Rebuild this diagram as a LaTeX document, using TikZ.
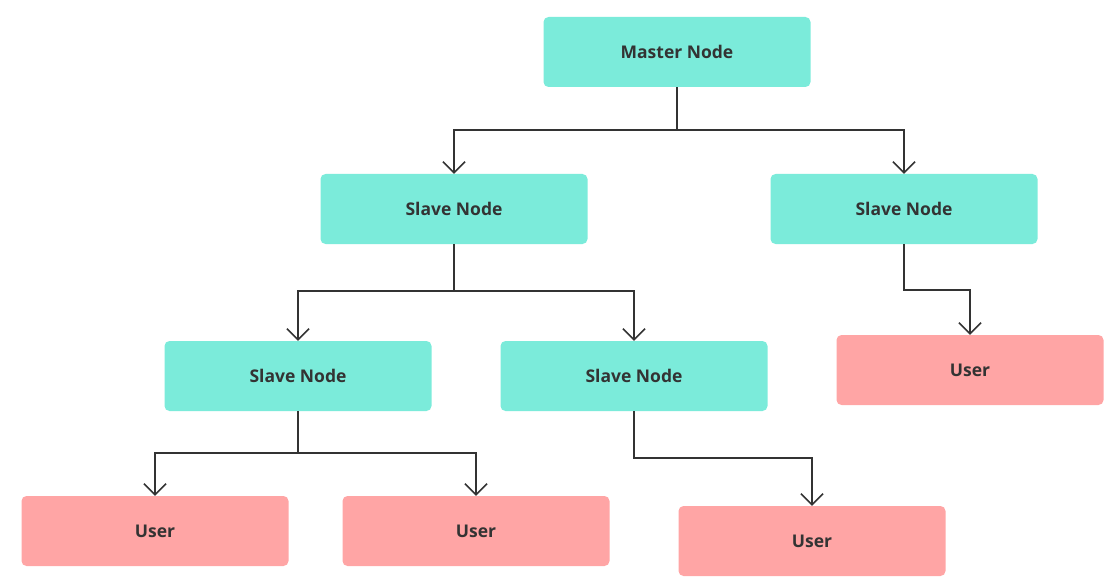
\documentclass[tikz,border=0pt]{standalone}
\usepackage{fontspec}
\setmainfont{Open Sans}
\usetikzlibrary{arrows.meta}
\definecolor{teal}{HTML}{7BEBDA}
\definecolor{pinkuser}{HTML}{FFA5A5}
\definecolor{ink}{HTML}{333333}
\tikzset{
  box/.style={rectangle, rounded corners=5pt, minimum width=267pt, minimum height=70pt, inner sep=0pt, text=ink, font=\fontsize{17.5}{21}\selectfont\bfseries},
  slave/.style={box, fill=teal},
  user/.style={box, fill=pinkuser},
  conn/.style={draw=ink, line width=1.6pt, -{Straight Barb[length=11pt,width=22pt,line width=1.6pt]}}
}
\begin{document}
\begin{tikzpicture}[x=1pt,y=-1pt]
\useasboundingbox (0,0) rectangle (1118,588);
\node[slave] (m) at (677,52) {Master Node};
\node[slave] (s1) at (454,209) {Slave Node};
\node[slave] (s2) at (904,209) {Slave Node};
\node[slave] (s3) at (298,376) {Slave Node};
\node[slave] (s4) at (634,376) {Slave Node};
\node[user] (u1) at (970,370) {User};
\node[user] (u2) at (155,531) {User};
\node[user] (u3) at (476,531) {User};
\node[user] (u4) at (812,541) {User};
\draw[conn] (m.south) |- (454,130) -- (s1.north);
\draw[conn] (m.south) |- (904,130) -- (s2.north);
\draw[conn] (s1.south) |- (298,291) -- (s3.north);
\draw[conn] (s1.south) |- (634,291) -- (s4.north);
\draw[conn] (s2.south) |- (970,290) -- (u1.north);
\draw[conn] (s3.south) |- (155,453) -- (u2.north);
\draw[conn] (s3.south) |- (476,453) -- (u3.north);
\draw[conn] (s4.south) |- (812,458) -- (u4.north);
\end{tikzpicture}
\end{document}
